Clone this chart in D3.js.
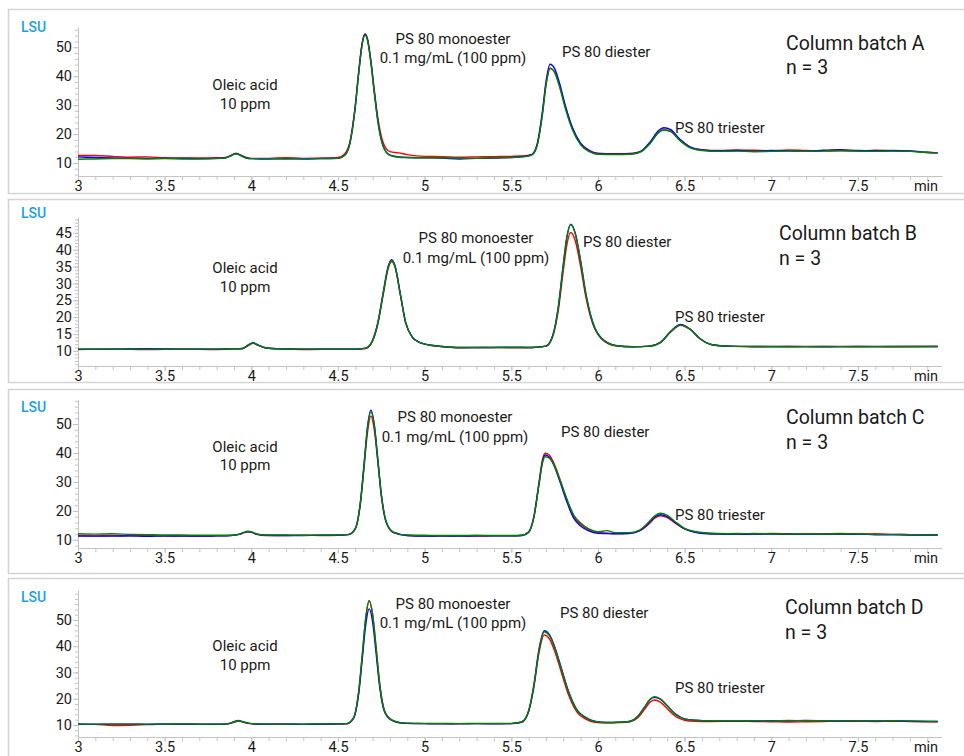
<!DOCTYPE html>
<html>
<head>
<meta charset="utf-8">
<script src="https://cdn.jsdelivr.net/npm/d3@7"></script>
<style>
  body { margin: 0; background: #fff; }
  text { font-family: Roboto, "Noto Sans", sans-serif; fill: #1a1a1a; }
</style>
</head>
<body>
<script>
// retention time ticks (min)
const xTicks = [3, 3.5, 4, 4.5, 5, 5.5, 6, 6.5, 7, 7.5];

// ---- batch A ----
const timesA = [3.0,3.1,3.2,3.3,3.4,3.5,3.6,3.7,3.8,3.85,3.88,3.91,3.94,3.97,4.0,4.1,4.2,4.3,4.4,4.5,
  4.54,4.57,4.6,4.62,4.64,4.656,4.67,4.69,4.71,4.73,4.76,4.8,4.85,4.9,
  5.0,5.1,5.2,5.3,5.4,5.5,
  5.58,5.62,5.65,5.68,5.7,5.724,5.75,5.78,5.81,5.85,5.9,5.95,
  6.0,6.1,6.2,
  6.25,6.3,6.35,6.38,6.42,6.47,6.53,6.6,
  6.7,6.8,6.9,7.0,7.1,7.2,7.3,7.4,7.5,7.6,7.7,7.8,7.9,7.96];
const redA = [12.6,12.6,12.3,12.0,12.1,11.8,11.7,11.7,11.8,11.9,12.5,13.3,12.7,11.9,11.6,11.6,11.8,11.6,11.7,11.9,
  13.2,17.6,29.9,41.7,51.6,54.6,53.0,45.4,35.0,25.6,17.2,13.9,13.5,12.9,
  12.3,12.2,12.0,12.1,12.2,12.3,
  12.5,13.0,16.4,27.2,36.8,42.6,41.4,36.4,29.8,22.4,16.8,14.4,
  13.4,13.2,13.4,
  14.1,16.9,20.6,21.5,21.0,18.2,15.6,14.6,
  14.3,14.5,14.4,14.2,14.5,14.3,14.2,14.3,14.1,14.4,14.2,14.1,13.6,13.5];
const blueA = [12.1,11.9,11.7,11.6,11.6,11.6,11.6,11.5,11.6,11.8,12.5,13.3,12.6,11.8,11.5,11.4,11.5,11.4,11.5,11.6,
  12.8,17.2,29.6,41.5,51.4,54.4,52.7,44.9,34.3,24.6,16.0,12.7,12.1,11.9,
  11.8,11.7,11.4,11.6,11.7,11.9,
  12.3,13.0,16.8,28.0,38.0,44.1,42.6,37.2,30.2,22.6,16.8,14.2,
  13.2,13.1,13.2,
  14.1,17.2,21.2,22.2,21.5,18.4,15.6,14.5,
  14.2,14.3,14.1,14.3,14.2,14.1,14.4,14.6,14.3,14.2,14.3,14.2,13.7,13.5];
const greenA = [11.3,11.4,11.5,11.5,11.4,11.5,11.4,11.4,11.5,11.7,12.4,13.2,12.5,11.7,11.5,11.5,11.4,11.5,11.5,11.6,
  12.7,17.0,29.4,41.3,51.2,54.2,52.5,44.6,34.0,24.3,15.8,12.6,12.0,11.9,
  11.8,11.8,11.7,11.6,11.8,11.9,
  12.2,12.8,16.2,27.0,36.9,42.8,41.3,36.0,29.2,21.8,16.3,13.9,
  13.0,12.9,13.1,
  13.9,16.7,20.5,21.4,20.8,17.9,15.3,14.3,
  14.0,14.1,13.9,14.0,14.1,14.0,14.1,14.2,14.1,14.0,14.1,14.0,13.6,13.5];
const yTicksA = [10, 20, 30, 40, 50];

// ---- batch B ----
const timesB = [3.0,3.2,3.4,3.6,3.8,
  3.9,3.95,3.98,4.01,4.04,4.08,4.15,
  4.3,4.5,4.6,
  4.66,4.7,4.73,4.76,4.79,4.81,4.83,4.86,4.89,4.93,4.97,5.02,
  5.1,5.2,5.35,5.5,5.62,
  5.7,5.74,5.77,5.8,5.82,5.843,5.87,5.9,5.93,5.97,6.02,
  6.1,6.2,6.3,
  6.36,6.42,6.476,6.53,6.59,6.66,6.75,
  6.9,7.1,7.3,7.5,7.7,7.96];
const redB = [10.4,10.5,10.4,10.5,10.4,
  10.6,10.7,11.5,12.2,11.6,10.9,10.6,
  10.4,10.5,10.5,
  10.7,12.9,17.9,26.4,34.5,36.5,34.7,26.6,18.4,14.0,12.5,11.8,
  11.3,10.9,11.0,10.9,11.0,
  11.4,14.4,21.6,33.8,41.3,45.1,42.5,35.0,26.0,18.0,13.6,
  11.5,11.2,11.4,
  12.4,15.6,17.6,16.4,13.5,11.8,11.4,
  11.2,11.3,11.3,11.3,11.2,11.3];
const blueB = [10.5,10.5,10.6,10.5,10.5,
  10.6,10.7,11.7,12.4,11.7,10.9,10.6,
  10.5,10.5,10.5,
  10.8,13.2,18.4,27.0,35.1,37.0,35.0,26.8,18.5,14.0,12.5,11.8,
  11.3,11.0,11.0,11.1,11.0,
  11.4,14.7,22.6,35.6,43.6,47.6,44.7,36.6,27.0,18.4,13.7,
  11.6,11.2,11.4,
  12.5,15.8,17.8,16.5,13.6,11.8,11.4,
  11.3,11.3,11.2,11.3,11.3,11.3];
const greenB = [10.5,10.5,10.5,10.5,10.5,
  10.6,10.7,11.6,12.3,11.7,10.9,10.6,
  10.5,10.5,10.5,
  10.8,13.1,18.2,26.8,34.9,36.8,34.9,26.7,18.5,14.0,12.5,11.8,
  11.3,11.0,11.0,11.0,11.0,
  11.4,14.6,22.4,35.4,43.4,47.4,44.6,36.6,27.0,18.5,13.8,
  11.6,11.2,11.4,
  12.5,15.7,17.7,16.5,13.6,11.8,11.4,
  11.3,11.2,11.3,11.2,11.3,11.3];
const yTicksB = [10, 15, 20, 25, 30, 35, 40, 45];

// ---- batch C ----
const timesC = [3.0,3.1,3.2,3.3,3.4,3.5,3.6,3.7,3.8,
  3.88,3.93,3.96,3.98,4.0,4.03,4.08,
  4.2,4.3,4.4,4.5,
  4.56,4.6,4.63,4.65,4.67,4.69,4.71,4.73,4.75,4.78,4.82,
  4.9,5.0,5.1,5.2,5.3,5.4,5.5,
  5.56,5.6,5.63,5.66,5.68,5.695,5.72,5.75,5.78,5.82,5.86,5.9,5.95,
  6.0,6.05,6.1,6.18,
  6.24,6.29,6.33,6.36,6.4,6.45,6.5,6.56,6.63,
  6.7,6.8,6.9,7.0,7.1,7.2,7.3,7.4,7.5,7.6,7.7,7.8,7.96];
const redC = [11.5,11.4,11.5,11.4,11.5,11.3,11.4,11.3,11.4,
  11.5,11.9,12.5,12.8,12.6,11.9,11.5,
  11.5,11.6,11.5,11.6,
  11.8,13.8,22.8,34.7,47.0,52.8,47.8,36.8,25.3,15.8,12.5,
  11.5,11.4,11.3,11.4,11.3,11.4,11.4,
  11.5,12.7,18.0,30.0,37.8,39.9,39.2,35.9,31.0,24.0,18.2,15.4,13.5,
  12.7,12.3,12.2,12.3,
  13.1,15.3,17.6,18.3,17.7,15.6,13.8,12.7,12.3,
  12.1,12.2,12.0,12.2,12.1,12.0,12.1,12.2,12.0,12.1,11.9,11.8,11.7];
const blueC = [11.3,11.3,11.3,11.4,11.2,11.4,11.3,11.3,11.4,
  11.5,11.9,12.6,12.9,12.7,12.0,11.6,
  11.5,11.5,11.6,11.6,
  11.8,13.9,23.3,35.8,48.9,54.8,49.6,37.8,25.7,15.8,12.6,
  11.5,11.3,11.4,11.3,11.4,11.4,11.4,
  11.5,12.6,17.8,29.4,37.0,39.3,38.5,35.2,30.2,23.2,17.5,14.8,13.0,
  12.3,12.2,12.1,12.2,
  13.2,15.6,18.0,18.7,18.0,15.8,13.8,12.6,12.1,
  12.0,11.9,12.0,12.0,11.9,12.0,11.9,11.9,12.0,11.8,11.8,11.7,11.7];
const greenC = [12.1,12.0,12.1,11.9,11.8,11.7,11.7,11.6,11.6,
  11.6,12.0,12.7,13.0,12.8,12.1,11.7,
  11.7,11.6,11.7,11.7,
  11.9,13.9,23.2,35.5,48.4,54.3,49.2,37.6,25.6,16.0,12.7,
  11.7,11.6,11.5,11.5,11.6,11.5,11.5,
  11.6,12.7,17.7,29.2,36.6,38.7,38.2,35.4,30.8,24.2,18.6,15.8,13.7,
  12.8,13.2,12.5,12.5,
  13.4,16.0,18.4,19.2,18.5,16.1,14.0,12.9,12.4,
  12.2,12.1,12.2,12.1,12.0,12.1,12.0,12.1,12.1,11.9,11.9,11.8,11.7];
const yTicksC = [10, 20, 30, 40, 50];

// ---- batch D ----
const timesD = [3.0,3.1,3.2,3.3,3.4,3.5,3.6,3.7,3.8,
  3.86,3.9,3.925,3.95,3.99,4.05,
  4.2,4.3,4.4,4.5,
  4.55,4.59,4.62,4.64,4.66,4.68,4.7,4.72,4.74,4.77,4.81,4.87,
  5.0,5.1,5.2,5.3,5.4,5.5,
  5.56,5.6,5.63,5.66,5.69,5.72,5.75,5.79,5.83,5.88,5.93,5.98,
  6.05,6.12,
  6.18,6.23,6.27,6.3,6.325,6.36,6.4,6.45,6.5,6.56,6.65,
  6.8,6.9,7.0,7.1,7.2,7.3,7.4,7.5,7.6,7.7,7.8,7.96];
const redD = [10.3,10.2,9.8,9.9,10.1,10.3,10.2,10.3,10.2,
  10.3,11.0,11.5,11.1,10.5,10.3,
  10.3,10.2,10.3,10.3,
  10.4,12.7,22.8,36.3,50.5,57.2,51.9,39.5,26.2,15.2,11.9,10.7,
  10.5,10.5,10.4,10.5,10.5,10.5,
  11.0,15.0,24.2,37.5,44.3,42.8,38.2,29.8,21.5,14.8,12.2,11.0,
  10.8,10.9,
  11.1,12.7,16.0,18.6,19.5,18.7,16.2,13.1,11.8,11.4,11.3,
  11.4,11.3,11.2,11.1,11.2,11.3,11.4,11.4,11.3,11.4,11.3,11.2];
const blueD = [10.3,10.2,10.3,10.3,10.2,10.3,10.3,10.2,10.3,
  10.4,11.2,11.7,11.2,10.6,10.3,
  10.3,10.2,10.3,10.4,
  10.5,12.6,22.2,35.0,48.1,54.2,49.2,37.3,24.8,14.7,11.7,10.7,
  10.5,10.4,10.5,10.5,10.4,10.5,
  11.1,15.4,25.1,38.9,45.9,44.4,39.8,31.3,22.8,15.6,12.8,11.4,
  10.9,11.0,
  11.3,13.3,16.9,19.6,20.5,19.8,17.3,14.0,12.3,11.8,11.6,
  11.6,11.5,11.6,11.6,11.7,11.6,11.5,11.6,11.5,11.6,11.4,11.3];
const greenD = [10.3,10.3,10.3,10.3,10.3,10.3,10.4,10.3,10.3,
  10.4,11.1,11.6,11.2,10.6,10.4,
  10.3,10.3,10.4,10.4,
  10.5,12.8,23.1,36.7,50.8,57.4,52.0,39.3,25.9,15.0,11.8,10.8,
  10.6,10.6,10.5,10.6,10.6,10.6,
  11.1,15.3,24.9,38.5,45.5,44.0,39.5,31.0,22.6,15.5,12.8,11.3,
  10.9,11.0,
  11.3,13.2,16.9,19.8,20.8,19.9,17.2,13.8,12.2,11.8,11.6,
  11.6,11.6,11.5,11.7,11.6,11.6,11.5,11.6,11.5,11.6,11.5,11.3];
const yTicksD = [10, 20, 30, 40, 50];

const batchNames = ["Column batch A", "Column batch B", "Column batch C", "Column batch D"];
const seriesColors = { red: "#ff0000", blue: "#0000ff", green: "#008000" };

// layout of each panel (pixels)
const panels = [
  { name: batchNames[0], times: timesA, red: redA, blue: blueA, green: greenA, yTicks: yTicksA,
    yDomain: [5.5, 57], minorStep: 2, top: 9, bottom: 193, axisTop: 27, axisBottom: 176, lsuY: 32,
    oleic: [245, 90, 109], mono: [453, 44, 63], di: [562, 57], tri: [675, 133], batch: [786, 50, 74] },
  { name: batchNames[1], times: timesB, red: redB, blue: blueB, green: greenB, yTicks: yTicksB,
    yDomain: [5.5, 49.7], minorStep: 1, top: 199, bottom: 382, axisTop: 217, axisBottom: 366, lsuY: 218,
    oleic: [245, 273, 292], mono: [476, 243, 263], di: [583, 247], tri: [675, 322], batch: [779, 240, 265] },
  { name: batchNames[2], times: timesC, red: redC, blue: blueC, green: greenC, yTicks: yTicksC,
    yDomain: [7.2, 58.3], minorStep: 2, top: 389, bottom: 573, axisTop: 400, axisBottom: 548, lsuY: 412,
    oleic: [245, 452, 470], mono: [455, 422, 442], di: [561, 437], tri: [675, 520], batch: [786, 424, 449] },
  { name: batchNames[3], times: timesD, red: redD, blue: blueD, green: greenD, yTicks: yTicksD,
    yDomain: [5.4, 61.4], minorStep: 2, top: 578, bottom: 772, axisTop: 590, axisBottom: 737, lsuY: 602,
    oleic: [245, 651, 670], mono: [453, 609, 628], di: [560, 618], tri: [675, 693], batch: [785, 614, 639] }
];

const svg = d3.select("body").append("svg")
    .attr("width", 964)
    .attr("height", 756);

const x = d3.scaleLinear().domain([3, 7.985]).range([78, 942]);
const xMinor = d3.range(30, 80).map(d => d / 10);

panels.forEach(p => {
    const g = svg.append("g");

    g.append("rect")
        .attr("x", 8.5).attr("y", p.top + 0.5)
        .attr("width", 964).attr("height", p.bottom - p.top)
        .attr("fill", "none")
        .attr("stroke", "#d4d4d4")
        .attr("stroke-width", 1.5);

    const y = d3.scaleLinear().domain(p.yDomain).range([p.axisBottom, p.axisTop]);

    // x axis: minor ticks then labels
    g.append("g")
        .attr("transform", `translate(0,${p.axisBottom})`)
        .call(d3.axisBottom(x).tickValues(xMinor).tickSize(4).tickSizeOuter(0).tickFormat(""))
        .call(a => a.selectAll("line, path").attr("stroke", "#c4c4c4"));
    g.append("g")
        .attr("transform", `translate(0,${p.axisBottom})`)
        .call(d3.axisBottom(x).tickValues(xTicks).tickSize(5).tickSizeOuter(0).tickPadding(0).tickFormat(d3.format("")))
        .call(a => a.select(".domain").remove())
        .call(a => a.selectAll("line").attr("stroke", "#c4c4c4"))
        .call(a => a.selectAll("text").attr("font-size", 14.5).attr("fill", "#1a1a1a").attr("font-family", "Roboto"));

    g.append("text")
        .attr("x", 926).attr("y", p.axisBottom + 15)
        .attr("text-anchor", "middle")
        .attr("font-size", 14.5)
        .text("min");

    // y axis
    const yMinor = d3.range(Math.ceil(p.yDomain[0]), p.yDomain[1], p.minorStep)
        .filter(v => v % p.minorStep === 0);
    g.append("g")
        .attr("transform", `translate(78,0)`)
        .call(d3.axisLeft(y).tickValues(yMinor).tickSize(3).tickSizeOuter(0).tickFormat(""))
        .call(a => a.selectAll("line, path").attr("stroke", "#c4c4c4"));
    g.append("g")
        .attr("transform", `translate(78,0)`)
        .call(d3.axisLeft(y).tickValues(p.yTicks).tickSize(5).tickSizeOuter(0).tickPadding(1))
        .call(a => a.select(".domain").remove())
        .call(a => a.selectAll("line").attr("stroke", "#c4c4c4"))
        .call(a => a.selectAll("text").attr("font-size", 14.5).attr("fill", "#1a1a1a").attr("font-family", "Roboto"));

    g.append("text")
        .attr("x", 21).attr("y", p.lsuY)
        .attr("font-size", 14)
        .attr("font-weight", 500)
        .style("fill", "#1d9fdc")
        .text("LSU");

    // traces
    const line = d3.line()
        .x(d => x(d[0]))
        .y(d => y(d[1]))
        .curve(d3.curveMonotoneX);

    ["red", "blue", "green"].forEach(s => {
        const pts = p.times.map((t, i) => [t, p[s][i]]);
        g.append("path")
            .attr("d", line(pts))
            .attr("fill", "none")
            .attr("stroke", seriesColors[s])
            .attr("stroke-width", 1.4)
            .attr("stroke-linejoin", "round");
    });

    // annotations
    const ann = g.append("g").attr("font-size", 15);
    ann.append("text").attr("x", p.oleic[0]).attr("y", p.oleic[1]).attr("text-anchor", "middle").text("Oleic acid");
    ann.append("text").attr("x", p.oleic[0]).attr("y", p.oleic[2]).attr("text-anchor", "middle").text("10 ppm");
    ann.append("text").attr("x", p.mono[0]).attr("y", p.mono[1]).attr("text-anchor", "middle").text("PS 80 monoester");
    ann.append("text").attr("x", p.mono[0]).attr("y", p.mono[2]).attr("text-anchor", "middle").text("0.1 mg/mL (100 ppm)");
    ann.append("text").attr("x", p.di[0]).attr("y", p.di[1]).text("PS 80 diester");
    ann.append("text").attr("x", p.tri[0]).attr("y", p.tri[1]).text("PS 80 triester");

    g.append("text").attr("x", p.batch[0]).attr("y", p.batch[1]).attr("font-size", 19.5).text(p.name);
    g.append("text").attr("x", p.batch[0]).attr("y", p.batch[2]).attr("font-size", 19.5).text("n = 3");
});
</script>
</body>
</html>
